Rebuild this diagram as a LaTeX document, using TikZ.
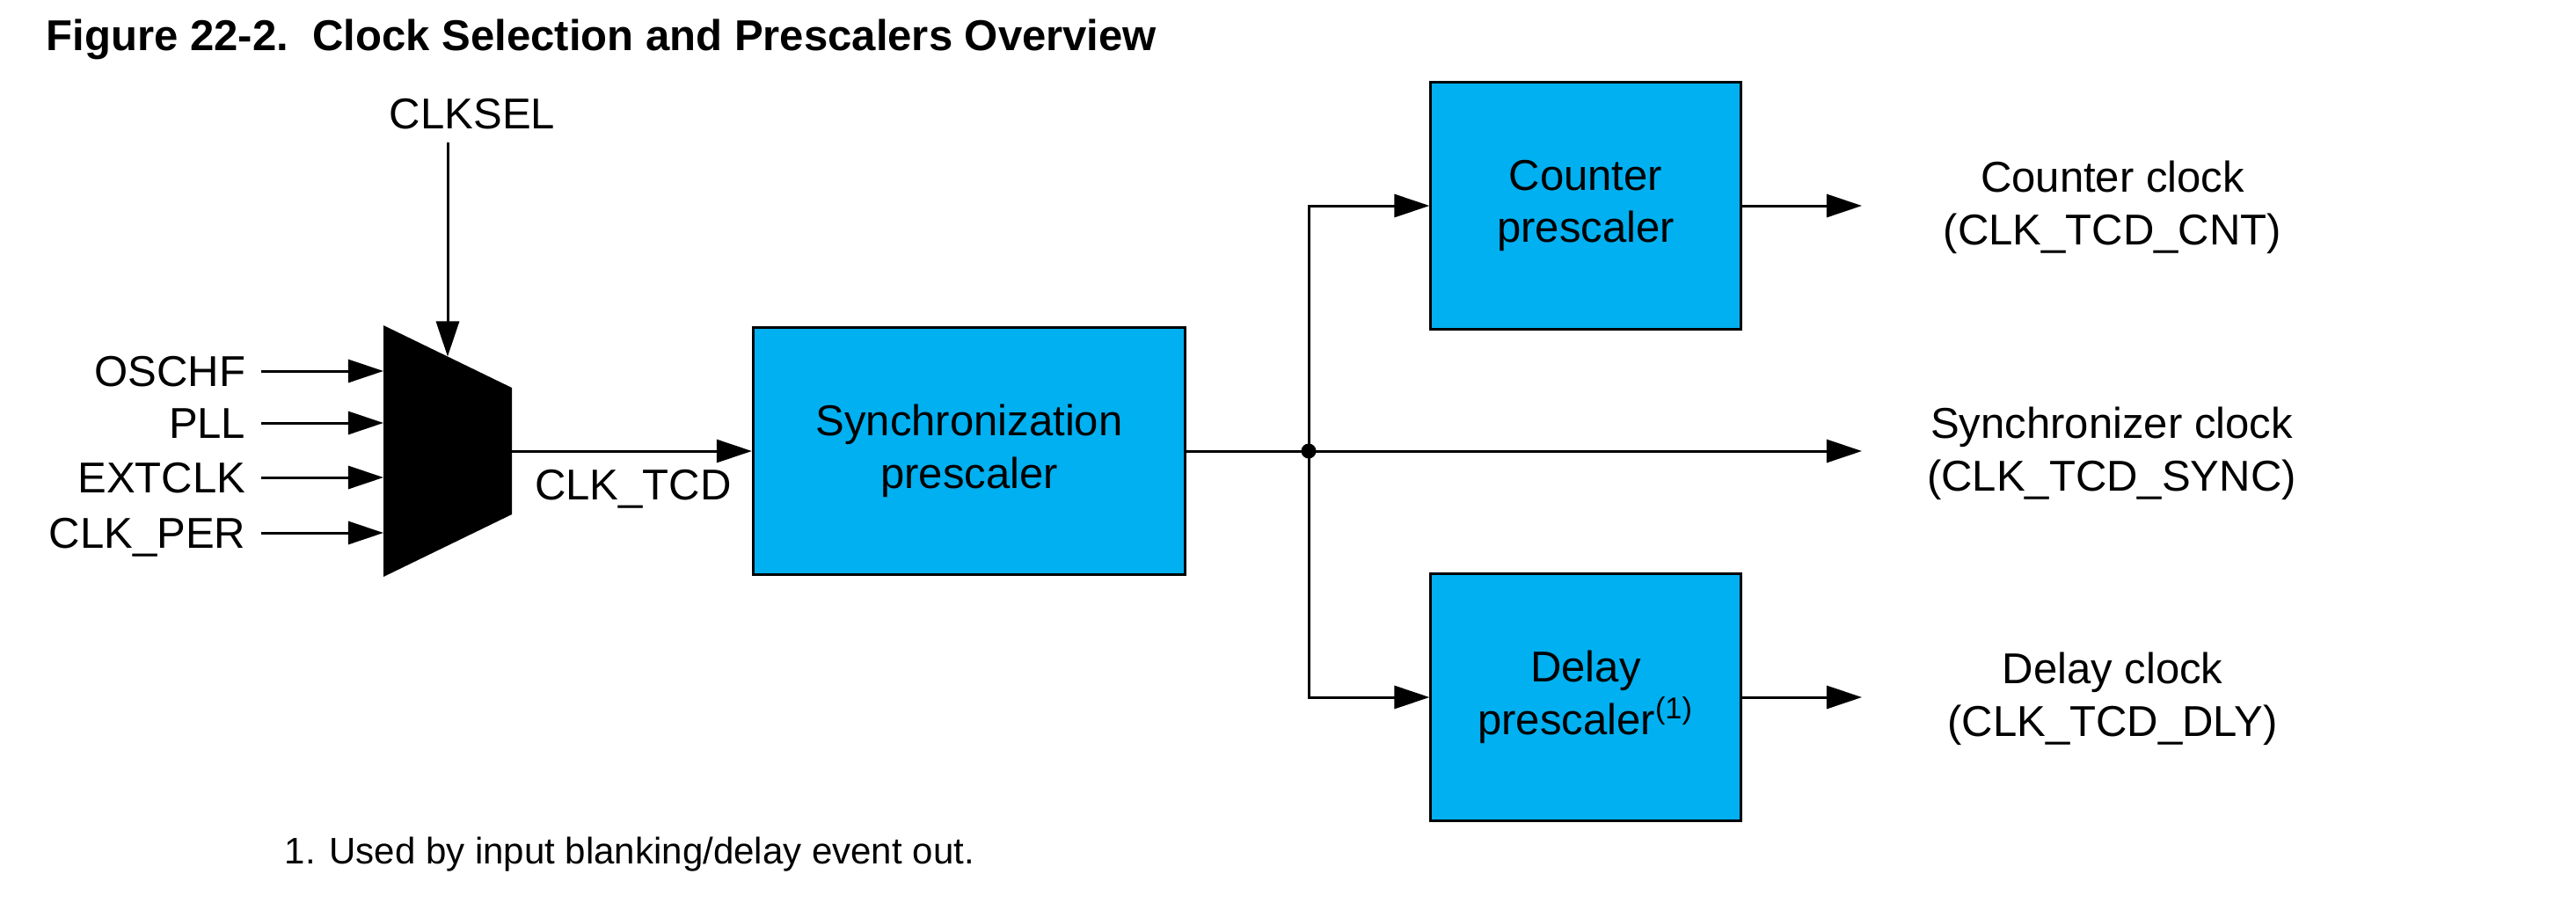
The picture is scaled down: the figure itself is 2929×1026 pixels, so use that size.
\documentclass[tikz,border=0pt]{standalone}
\usepackage{fontspec}
\setmainfont{Liberation Sans}
\usetikzlibrary{arrows.meta,calc}
\definecolor{tcdblue}{RGB}{0,176,240}
\begin{document}
\begin{tikzpicture}[
    x=0.01cm, y=-0.01cm,
    every node/.style={font=\fontsize{13.95}{17}\selectfont},
    prescaler/.style={rectangle, draw, line width=0.03cm, fill=tcdblue, minimum height=2.8cm, align=center},
    sigin/.style={anchor=east, inner xsep=0.17cm, inner ysep=0pt, text height=0.35cm, text depth=0pt},
    clkout/.style={align=center},
    arrow/.style={-{Triangle[length=0.4cm,width=0.26cm]}, line width=0.03cm}
]
    \useasboundingbox (0,0) rectangle (2929,1026);
    \node[anchor=base west, inner sep=0pt, font=\fontsize{13.95}{17}\selectfont\bfseries] (title) at (52,57) {Figure 22-2.~~Clock Selection and Prescalers Overview};

    % clock select mux
    \coordinate (mtl) at (436,370);
    \coordinate (mtr) at (582,441);
    \coordinate (mbr) at (582,585);
    \coordinate (mbl) at (436,656);
    \fill[line join=round] (mtl) -- (mtr) -- (mbr) -- (mbl) -- cycle;
    \coordinate (msel) at ($(mtl)!0.5!(mtr)$);
    \coordinate (mout) at ($(mtr)!0.5!(mbr)$);

    \node[anchor=south, inner xsep=0pt, inner ysep=0.15cm, text depth=0pt] (clksel) at (537,162) {CLKSEL};
    \node[sigin] (oschf) at (297,422) {OSCHF};
    \node[sigin] (pll) at (297,481) {PLL};
    \node[sigin] (extclk) at (297,543) {EXTCLK};
    \node[sigin] (clkper) at (297,606) {CLK\_PER};

    \draw[arrow] (clksel.south -| msel) -- (msel);
    \draw[arrow] (oschf.east) -- (oschf.east -| mtl);
    \draw[arrow] (pll.east) -- (pll.east -| mtl);
    \draw[arrow] (extclk.east) -- (extclk.east -| mtl);
    \draw[arrow] (clkper.east) -- (clkper.east -| mtl);

    % prescalers
    \node[prescaler, minimum width=4.91cm] (sync) at (1102,513) {Synchronization\\prescaler};
    \node[prescaler, minimum width=3.52cm] (cnt) at (1803,234) {Counter\\prescaler};
    \node[prescaler, minimum width=3.52cm] (dly) at (1803,793) {Delay\\prescaler\textsuperscript{(1)}};

    \node[anchor=base] (clktcd) at (720,568) {CLK\_TCD};
    \draw[arrow] (mout) -- (sync.west);

    \node[circle, fill, inner sep=0pt, minimum size=0.17cm] (junc) at (1488,513) {};
    \coordinate (outx) at (2117,0);
    \draw[line width=0.03cm] (sync.east) -- (junc.center);
    \draw[arrow] (junc.center) |- (cnt.west);
    \draw[arrow] (junc.center) |- (dly.west);
    \draw[arrow] (junc.center) -- (junc.center -| outx);
    \draw[arrow] (cnt.east) -- (cnt.east -| outx);
    \draw[arrow] (dly.east) -- (dly.east -| outx);

    % output clocks
    \node[clkout] (cntclk) at (2402,236) {Counter clock\\(CLK\_TCD\_CNT)};
    \node[clkout] (syncclk) at (2401,516) {Synchronizer clock\\(CLK\_TCD\_SYNC)};
    \node[clkout] (dlyclk) at (2402,795) {Delay clock\\(CLK\_TCD\_DLY)};

    \node[anchor=base west, inner sep=0pt, font=\fontsize{11.95}{14}\selectfont] (note) at (323,982) {1. Used by input blanking/delay event out.};
\end{tikzpicture}
\end{document}
